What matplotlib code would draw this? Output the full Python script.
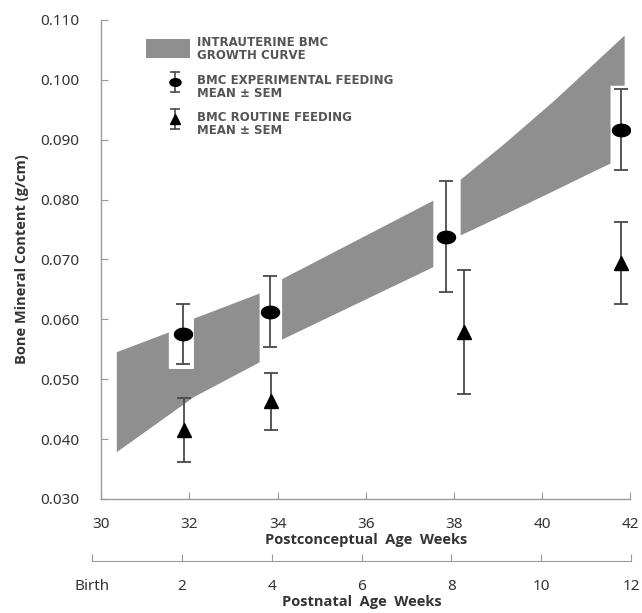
import numpy as np
import matplotlib
matplotlib.use('Agg')
import matplotlib.pyplot as plt
from matplotlib.patches import Rectangle

plt.rcParams['font.family'] = ['Noto Sans', 'DejaVu Sans']

# intrauterine BMC growth curve, drawn as three pieces (gaps around the error bars)
band_weeks = [
    [30.34, 31.52, 31.52, 32.09, 32.09, 33.58],
    [34.09, 37.52],
    [38.14, 39.12, 40.25, 41.00, 41.54, 41.54, 41.86],
]
band_upper = [
    [0.0546, 0.0579, 0.0518, 0.0518, 0.0602, 0.0644],
    [0.0668, 0.0799],
    [0.0834, 0.0893, 0.0965, 0.1016, 0.1053, 0.1053, 0.1075],
]
band_lower = [
    [0.0379, 0.0441, 0.0441, 0.0471, 0.0471, 0.0529],
    [0.0567, 0.0688],
    [0.0741, 0.0775, 0.0815, 0.0842, 0.0861, 0.0991, 0.0991],
]

# experimental feeding (circles)
exp_weeks = [31.85, 33.83, 37.82, 41.80]
exp_mean = [0.0575, 0.0613, 0.0738, 0.0917]
exp_sem = [0.0050, 0.0059, 0.0093, 0.0068]

# routine feeding (triangles)
rout_weeks = [31.88, 33.85, 38.23, 41.80]
rout_mean = [0.0415, 0.0463, 0.0579, 0.0694]
rout_sem = [0.0053, 0.0048, 0.0103, 0.0069]

pc_ticks = [30, 32, 34, 36, 38, 40, 42]
y_ticks = [0.030, 0.040, 0.050, 0.060, 0.070, 0.080, 0.090, 0.100, 0.110]
pn_ticks = [0, 2, 4, 6, 8, 10, 12]
pn_labels = ['Birth', '2', '4', '6', '8', '10', '12']

band_color = '#8f8f8f'
bar_color = '#4a4a4a'
axis_color = '#9a9a9a'
text_color = '#333333'
bold_font = dict(family=['Open Sans', 'DejaVu Sans'], fontsize=10.5,
                 fontweight='bold', color=text_color)

t = np.linspace(0, 2 * np.pi, 40)
ellipse = np.column_stack([1.45 * np.cos(t), np.sin(t)])

fig = plt.figure(figsize=(6.42, 6.13), dpi=100)
ax = fig.add_axes([0.1578, 0.186, 0.824, 0.7814])

for xs, up, lo in zip(band_weeks, band_upper, band_lower):
    ax.fill_between(xs, lo, up, color=band_color, linewidth=0, zorder=1)

ax.errorbar(exp_weeks, exp_mean, yerr=exp_sem, fmt='none', ecolor=bar_color,
            elinewidth=1.3, capsize=5, capthick=1.3, zorder=2)
ax.plot(exp_weeks, exp_mean, linestyle='none', marker=ellipse, markersize=13,
        color='black', zorder=3)
ax.errorbar(rout_weeks, rout_mean, yerr=rout_sem, fmt='none', ecolor=bar_color,
            elinewidth=1.3, capsize=5, capthick=1.3, zorder=2)
ax.plot(rout_weeks, rout_mean, linestyle='none', marker='^', markersize=10,
        color='black', zorder=3)

ax.set_xlim(30, 42)
ax.set_ylim(0.030, 0.110)
ax.set_xticks(pc_ticks)
ax.set_yticks(y_ticks)
ax.yaxis.set_major_formatter(matplotlib.ticker.FormatStrFormatter('%.3f'))
for s in ['top', 'right']:
    ax.spines[s].set_visible(False)
for s in ['left', 'bottom']:
    ax.spines[s].set_color(axis_color)
    ax.spines[s].set_linewidth(1.0)
ax.tick_params(axis='both', direction='in', length=5, color=axis_color,
               labelsize=11, labelcolor=text_color)
ax.tick_params(axis='x', pad=13)
ax.tick_params(axis='y', pad=16)
ax.set_ylabel('Bone Mineral Content (g/cm)', labelpad=8, **bold_font)
ax.set_xlabel('Postconceptual  Age  Weeks', labelpad=1, **bold_font)

# legend drawn by hand, like the original figure
leg_font = dict(family='DejaVu Sans', fontsize=8.5, fontweight='bold',
                color='#555555', va='center', ha='left', linespacing=1.0,
                transform=ax.transAxes)
ax.add_patch(Rectangle((0.0845, 0.920), 0.083, 0.040, transform=ax.transAxes,
                       color=band_color, linewidth=0))
ax.text(0.180, 0.939, 'INTRAUTERINE BMC\nGROWTH CURVE', **leg_font)
for yc, mk, ms, label in [(0.871, ellipse, 8, 'BMC EXPERIMENTAL FEEDING\nMEAN \u00b1 SEM'),
                          (0.794, '^', 7, 'BMC ROUTINE FEEDING\nMEAN \u00b1 SEM')]:
    ax.plot([0.139, 0.139], [yc - 0.021, yc + 0.021], color=bar_color, lw=1.2,
            transform=ax.transAxes)
    ax.plot([0.139, 0.139], [yc - 0.021, yc + 0.021], linestyle='none', marker='_',
            markersize=7, markeredgewidth=1.2, color=bar_color, transform=ax.transAxes)
    ax.plot([0.139], [yc], linestyle='none', marker=mk, markersize=ms, color='black',
            transform=ax.transAxes)
    ax.text(0.180, yc - 0.011, label, **leg_font)

# postnatal age axis
ax2 = fig.add_axes([0.1433, 0.0848, 0.8396, 0.0001])
ax2.set_xlim(0, 12)
ax2.set_yticks([])
ax2.set_xticks(pn_ticks)
ax2.set_xticklabels(pn_labels)
for s in ['top', 'left', 'right']:
    ax2.spines[s].set_visible(False)
ax2.spines['bottom'].set_color(axis_color)
ax2.patch.set_visible(False)
ax2.tick_params(axis='x', direction='in', length=5, color=axis_color,
                labelsize=11, labelcolor=text_color, pad=13)
ax2.set_xlabel('Postnatal  Age  Weeks', labelpad=1, **bold_font)

fig.savefig('out.png', dpi=100)
